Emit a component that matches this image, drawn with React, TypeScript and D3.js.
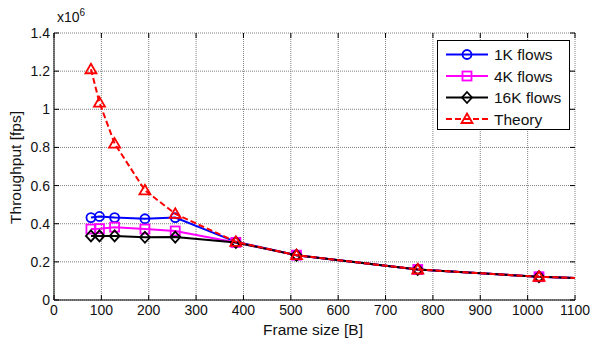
import React, { useRef, useEffect } from 'react'
import * as d3 from 'd3'

// frame sizes in bytes (last point lies beyond the axis and is clipped)
const frameSizes = [78, 96, 128, 192, 256, 384, 512, 768, 1024, 1518]
const flows1K = [0.432, 0.438, 0.432, 0.426, 0.432, 0.305, 0.235, 0.16, 0.122, 0.082]
const flows4K = [0.372, 0.374, 0.382, 0.372, 0.362, 0.302, 0.235, 0.16, 0.122, 0.082]
const flows16K = [0.336, 0.336, 0.336, 0.329, 0.33, 0.302, 0.235, 0.16, 0.122, 0.082]
const theory = [1.21, 1.035, 0.82, 0.575, 0.452, 0.305, 0.235, 0.16, 0.122, 0.082]

const xTicks = [0, 100, 200, 300, 400, 500, 600, 700, 800, 900, 1000, 1100]
const yTicks = [0, 0.2, 0.4, 0.6, 0.8, 1, 1.2, 1.4]

const seriesList = [
  { name: '1K flows', values: flows1K, color: '#0000ff', marker: 'circle', dashed: false },
  { name: '4K flows', values: flows4K, color: '#ff00ff', marker: 'square', dashed: false },
  { name: '16K flows', values: flows16K, color: '#000000', marker: 'diamond', dashed: false },
  { name: 'Theory', values: theory, color: '#ff0000', marker: 'triangle', dashed: true }
]

const font = 'Liberation Sans, Arial, sans-serif'

function drawMarker(g, type, x, y, color) {
  if (type === 'circle') {
    g.append('circle').attr('cx', x).attr('cy', y).attr('r', 4.5)
      .attr('fill', 'none').attr('stroke', color).attr('stroke-width', 1.8)
  } else if (type === 'square') {
    g.append('rect').attr('x', x - 4.5).attr('y', y - 4.5).attr('width', 9).attr('height', 9)
      .attr('fill', 'none').attr('stroke', color).attr('stroke-width', 1.8)
  } else if (type === 'diamond') {
    g.append('path').attr('d', `M${x},${y - 5.5}L${x + 5},${y}L${x},${y + 5.5}L${x - 5},${y}Z`)
      .attr('fill', 'none').attr('stroke', color).attr('stroke-width', 1.8)
  } else {
    g.append('path').attr('d', `M${x},${y - 5.5}L${x + 5.5},${y + 4}L${x - 5.5},${y + 4}Z`)
      .attr('fill', 'none').attr('stroke', color).attr('stroke-width', 1.8)
  }
}

export default function App() {
  const ref = useRef(null)

  useEffect(() => {
    const svg = d3.select(ref.current)
    svg.selectAll('*').remove()

    const left = 54
    const right = 575
    const top = 33
    const bottom = 300

    const xScale = d3.scaleLinear().domain([0, 1100]).range([left, right])
    const yScale = d3.scaleLinear().domain([0, 1.4]).range([bottom, top])

    svg.append('rect').attr('width', 592).attr('height', 342).attr('fill', 'white')

    svg.append('defs').append('clipPath').attr('id', 'plotclip')
      .append('rect').attr('x', left).attr('y', top - 6)
      .attr('width', right - left).attr('height', bottom - top + 6)

    // grid
    const grid = svg.append('g')
    xTicks.forEach(t => {
      grid.append('line').attr('x1', xScale(t)).attr('x2', xScale(t))
        .attr('y1', top).attr('y2', bottom)
        .attr('stroke', '#808080').attr('stroke-width', 1).attr('stroke-dasharray', '1,1')
    })
    yTicks.forEach(t => {
      grid.append('line').attr('x1', left).attr('x2', right)
        .attr('y1', yScale(t)).attr('y2', yScale(t))
        .attr('stroke', '#808080').attr('stroke-width', 1).attr('stroke-dasharray', '1,1')
    })

    // axes (MATLAB style, inward ticks)
    const axes = svg.append('g')
    axes.append('line').attr('x1', left).attr('x2', left).attr('y1', top).attr('y2', bottom)
      .attr('stroke', 'black')
    axes.append('line').attr('x1', left).attr('x2', right).attr('y1', bottom).attr('y2', bottom)
      .attr('stroke', 'black')
    xTicks.forEach(t => {
      axes.append('line').attr('x1', xScale(t)).attr('x2', xScale(t))
        .attr('y1', bottom).attr('y2', bottom - 5).attr('stroke', 'black')
      axes.append('line').attr('x1', xScale(t)).attr('x2', xScale(t))
        .attr('y1', top).attr('y2', top + 5).attr('stroke', 'black')
      axes.append('text').attr('x', xScale(t)).attr('y', bottom + 15)
        .attr('text-anchor', 'middle').attr('font-family', font).attr('font-size', 14)
        .attr('fill', '#111').text(t)
    })
    yTicks.forEach(t => {
      axes.append('line').attr('x1', left).attr('x2', left + 5)
        .attr('y1', yScale(t)).attr('y2', yScale(t)).attr('stroke', 'black')
      axes.append('line').attr('x1', right).attr('x2', right - 5)
        .attr('y1', yScale(t)).attr('y2', yScale(t)).attr('stroke', 'black')
      axes.append('text').attr('x', left - 4).attr('y', yScale(t) + 5)
        .attr('text-anchor', 'end').attr('font-family', font).attr('font-size', 14)
        .attr('fill', '#111').text(d3.format('~g')(t))
    })

    // exponent label
    const exp = axes.append('text').attr('x', 57).attr('y', 21.5)
      .attr('font-family', font).attr('font-size', 14).attr('fill', '#111')
    exp.append('tspan').text('x10')
    exp.append('tspan').attr('dy', -6).attr('font-size', 10).text('6')

    // axis titles
    svg.append('text').attr('x', 313).attr('y', 335)
      .attr('text-anchor', 'middle').attr('font-family', font).attr('font-size', 15.5)
      .attr('fill', '#111').text('Frame size [B]')
    svg.append('text').attr('transform', `translate(20.5, ${(top + bottom) / 2 + 1}) rotate(-90)`)
      .attr('text-anchor', 'middle').attr('font-family', font).attr('font-size', 15.5)
      .attr('fill', '#111').text('Throughput [fps]')

    // series
    const plot = svg.append('g').attr('clip-path', 'url(#plotclip)')
    seriesList.forEach(s => {
      const pts = frameSizes.map((f, i) => [f, s.values[i]])
      const line = d3.line().x(d => xScale(d[0])).y(d => yScale(d[1]))
      plot.append('path').datum(pts).attr('d', line)
        .attr('fill', 'none').attr('stroke', s.color).attr('stroke-width', 2)
        .attr('stroke-dasharray', s.dashed ? '6,3' : null)
      pts.forEach(p => {
        if (p[0] <= 1100) drawMarker(plot, s.marker, xScale(p[0]), yScale(p[1]), s.color)
      })
    })

    // legend
    const lg = svg.append('g')
    lg.append('rect').attr('x', 437.5).attr('y', 40.5).attr('width', 132).attr('height', 89)
      .attr('fill', 'white').attr('stroke', 'black')
    seriesList.forEach((s, i) => {
      const y = 54.5 + i * 21.5
      lg.append('line').attr('x1', 446).attr('x2', 488).attr('y1', y).attr('y2', y)
        .attr('stroke', s.color).attr('stroke-width', 2)
        .attr('stroke-dasharray', s.dashed ? '6,3' : null)
      drawMarker(lg, s.marker, 467, y, s.color)
      lg.append('text').attr('x', 494).attr('y', y + 5.5)
        .attr('font-family', font).attr('font-size', 15.5).attr('fill', '#111').text(s.name)
    })
  }, [])

  return (
    <svg ref={ref} width={592} height={342}
      style={{ position: 'absolute', left: 0, top: 0 }} />
  )
}
